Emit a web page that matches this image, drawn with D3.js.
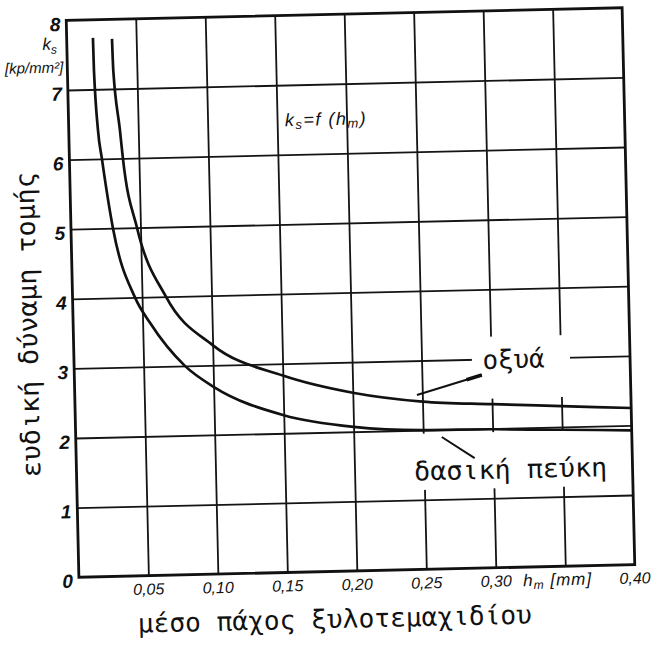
<!DOCTYPE html>
<html>
<head>
<meta charset="utf-8">
<script src="https://cdn.jsdelivr.net/npm/d3@7"></script>
<style>
body { margin: 0; background: #fff; }
svg { display: block; background: #fff; }
.grid line { stroke: #141414; stroke-width: 1.8; }
.grid path { display: none; }
.num { font-family: "Liberation Sans", Arial, sans-serif; font-style: italic; fill: #111; }
.greek { font-family: "DejaVu Sans Mono", monospace; fill: #111; }
</style>
</head>
<body>
<script>

// values
var hmGrid = [0.05, 0.10, 0.15, 0.20, 0.25, 0.30, 0.35];
var ksGrid = [1, 2, 3, 4, 5, 6, 7];

var xTickValues = [0.05, 0.10, 0.15, 0.20, 0.25, 0.30, 0.40];
var xTickLabels = ["0,05", "0,10", "0,15", "0,20", "0,25", "0,30", "0,40"];
var yTickValues = [0, 1, 2, 3, 4, 5, 6, 7, 8];
var yTickLabels = ["0", "1", "2", "3", "4", "5", "6", "7", "8"];

// δασική πεύκη (lower curve)
var pineHm = [0.0189, 0.0191, 0.0210, 0.0234, 0.0302, 0.0449, 0.0553, 0.0797, 0.100, 0.150, 0.200, 0.250, 0.300, 0.350, 0.400];
var pineKs = [7.74, 7.28, 6.42, 6.00, 5.00, 4.00, 3.63, 3.00, 2.69, 2.26, 2.07, 2.00, 1.99, 1.96, 1.93];

// οξυά (upper curve)
var beechHm = [0.0326, 0.0330, 0.0368, 0.0385, 0.0475, 0.0672, 0.100, 0.150, 0.200, 0.250, 0.300, 0.350, 0.400];
var beechKs = [7.72, 7.27, 6.41, 6.00, 5.00, 4.00, 3.29, 2.83, 2.56, 2.41, 2.35, 2.30, 2.25];

var W = 652, H = 646;
var plotL = 72.5, plotR = 628.5, plotT = 14, plotB = 571;
var tilt = -1.3; // the scan sits slightly rotated

var x = d3.scaleLinear().domain([0, 0.4]).range([plotL, plotR]);
var y = d3.scaleLinear().domain([0, 8]).range([plotB, plotT]);

var svg = d3.select("body").append("svg")
    .attr("width", W)
    .attr("height", H);

var g = svg.append("g")
    .attr("transform", "rotate(" + tilt + "," + ((plotL + plotR) / 2) + "," + ((plotT + plotB) / 2) + ")");

// grid
g.append("g")
    .attr("class", "grid")
    .attr("transform", "translate(0," + plotB + ")")
    .call(d3.axisBottom(x).tickValues(hmGrid).tickSize(-(plotB - plotT)).tickFormat(""));

g.append("g")
    .attr("class", "grid")
    .attr("transform", "translate(" + plotL + ",0)")
    .call(d3.axisLeft(y).tickValues(ksGrid).tickSize(-(plotR - plotL)).tickFormat(""));

// frame
g.append("rect")
    .attr("x", x(0)).attr("y", y(8))
    .attr("width", x(0.4) - x(0)).attr("height", y(0) - y(8))
    .attr("fill", "none").attr("stroke", "#111").attr("stroke-width", 2.8);

// white patches behind the curve names
function patch(h0, h1, k0, k1) {
  g.append("rect")
    .attr("x", x(h0)).attr("y", y(k0))
    .attr("width", x(h1) - x(h0)).attr("height", y(k1) - y(k0))
    .attr("fill", "#fff");
}
patch(0.2862, 0.3568, 3.32, 2.43);
patch(0.2391, 0.3905, 1.95, 1.14);

// curves
var line = d3.line()
    .x(function(d) { return x(d[0]); })
    .y(function(d) { return y(d[1]); })
    .curve(d3.curveMonotoneX);

[[pineHm, pineKs], [beechHm, beechKs]].forEach(function(s) {
  g.append("path")
    .datum(d3.zip(s[0], s[1]))
    .attr("d", line)
    .attr("fill", "none")
    .attr("stroke", "#111")
    .attr("stroke-width", 2.7)
    .attr("stroke-linejoin", "round");
});

// pointers
g.append("line")
    .attr("x1", x(0.2931)).attr("y1", y(2.772))
    .attr("x2", x(0.2461)).attr("y2", y(2.506))
    .attr("stroke", "#111").attr("stroke-width", 2);
g.append("line")
    .attr("x1", x(0.2931)).attr("y1", y(2.772))
    .attr("x2", x(0.2820)).attr("y2", y(2.709))
    .attr("stroke", "#111").attr("stroke-width", 3.6);
g.append("line")
    .attr("x1", x(0.2633)).attr("y1", y(1.895))
    .attr("x2", x(0.2866)).attr("y2", y(1.582))
    .attr("stroke", "#111").attr("stroke-width", 2);

// tick labels
g.selectAll(".ylab")
    .data(yTickValues)
  .enter().append("text")
    .attr("class", "num ylab")
    .attr("x", x(0) - 6)
    .attr("y", function(d) { return y(d) + 10.5; })
    .attr("text-anchor", "end")
    .attr("font-size", 19)
    .attr("font-weight", "bold")
    .text(function(d, i) { return yTickLabels[i]; });

g.selectAll(".xlab")
    .data(xTickValues)
  .enter().append("text")
    .attr("class", "num xlab")
    .attr("x", function(d) { return x(d); })
    .attr("y", y(0) + 19)
    .attr("text-anchor", "middle")
    .attr("font-size", 16)
    .text(function(d, i) { return xTickLabels[i]; });

// unit labels
var hu = g.append("text").attr("class", "num")
    .attr("x", x(0.35) - 8).attr("y", y(0) + 19)
    .attr("text-anchor", "middle").attr("font-size", 17)
    .attr("letter-spacing", 1);
hu.append("tspan").text("h");
hu.append("tspan").attr("font-size", 12).attr("dy", 3).text("m");
hu.append("tspan").attr("dy", -3).text(" [mm]");

var ku = g.append("text").attr("class", "num")
    .attr("x", x(0) - 10).attr("y", y(8) + 29)
    .attr("text-anchor", "end").attr("font-size", 17);
ku.append("tspan").text("k");
ku.append("tspan").attr("font-size", 12).attr("dy", 4).text("s");

g.append("text").attr("class", "num")
    .attr("x", x(0) - 4).attr("y", y(8) + 52)
    .attr("text-anchor", "end").attr("font-size", 15)
    .text("[kp/mm²]");

var fx = g.append("text").attr("class", "num")
    .attr("x", x(0.1556)).attr("y", y(6.41))
    .attr("font-size", 18).attr("letter-spacing", 1.5);
fx.append("tspan").text("k");
fx.append("tspan").attr("font-size", 13).attr("dy", 3).text("s");
fx.append("tspan").attr("dy", -3).text("=f (h");
fx.append("tspan").attr("font-size", 13).attr("dy", 3).text("m");
fx.append("tspan").attr("dy", -3).text(")");

// curve names
g.append("text").attr("class", "greek")
    .attr("x", x(0.3162)).attr("y", y(2.86))
    .attr("text-anchor", "middle").attr("font-size", 26)
    .attr("textLength", 62).attr("lengthAdjust", "spacingAndGlyphs")
    .text("οξυά");

g.append("text").attr("class", "greek")
    .attr("x", x(0.3123)).attr("y", y(1.28))
    .attr("text-anchor", "middle").attr("font-size", 26)
    .attr("textLength", 193).attr("lengthAdjust", "spacingAndGlyphs")
    .text("δασική πεύκη");

// axis titles
g.append("text").attr("class", "greek")
    .attr("transform", "translate(36.4,317.4) rotate(-90)")
    .attr("text-anchor", "middle").attr("font-size", 26)
    .attr("textLength", 305).attr("lengthAdjust", "spacingAndGlyphs")
    .text("ευδική δύναμη τομής");

g.append("text").attr("class", "greek")
    .attr("x", 327.4).attr("y", 627.6)
    .attr("text-anchor", "middle").attr("font-size", 26)
    .attr("textLength", 394).attr("lengthAdjust", "spacingAndGlyphs")
    .text("μέσο πάχος ξυλοτεμαχιδίου");

</script>
</body>
</html>
